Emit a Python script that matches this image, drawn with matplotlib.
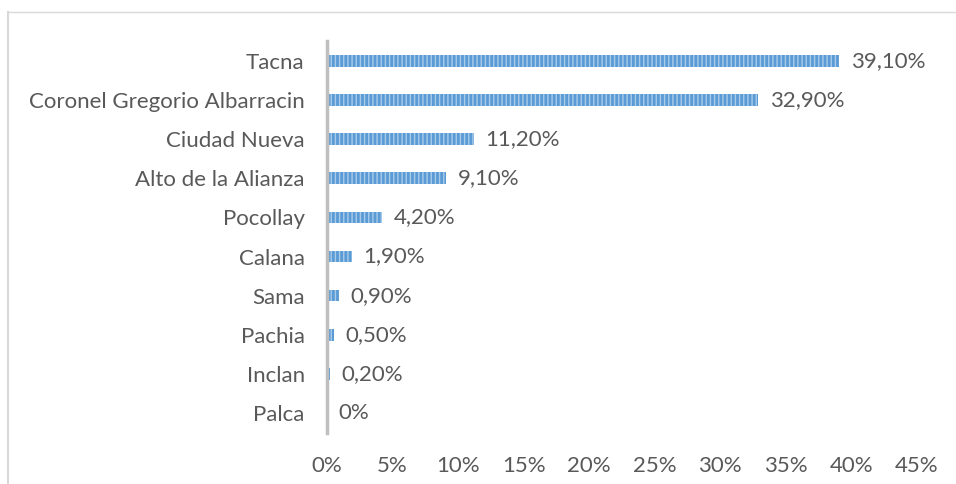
import matplotlib
matplotlib.use("Agg")
import matplotlib.pyplot as plt
from matplotlib.lines import Line2D

categories = ["Tacna", "Coronel Gregorio Albarracin", "Ciudad Nueva", "Alto de la Alianza",
              "Pocollay", "Calana", "Sama", "Pachia", "Inclan", "Palca"]
values = [39.1, 32.9, 11.2, 9.1, 4.2, 1.9, 0.9, 0.5, 0.2, 0.0]
labels = ["39,10%", "32,90%", "11,20%", "9,10%", "4,20%", "1,90%", "0,90%", "0,50%", "0,20%", "0%"]
xticks = [0, 5, 10, 15, 20, 25, 30, 35, 40, 45]

plt.rcParams['font.family'] = ['Lato', 'DejaVu Sans']
plt.rcParams['hatch.color'] = '#A9CBEA'
plt.rcParams['hatch.linewidth'] = 1.0

fig = plt.figure(figsize=(9.56, 4.84), dpi=100)
ax = fig.add_axes([0.342, 0.1064, 0.617, 0.808])

txt = '#595959'
fs = 16
y = list(range(len(categories)))
ax.barh(y, values, height=0.3, color='#5B9BD5', edgecolor='#A9CBEA', hatch='||||', linewidth=0)
for yi, v, lab in zip(y, values, labels):
    ax.text(v + 0.9, yi, lab, va='center', ha='left', fontsize=fs, color=txt)

ax.set_xlim(0, 45)
ax.set_ylim(len(categories) - 0.5, -0.5)
ax.set_yticks(y)
ax.set_yticklabels(categories, fontsize=fs, color=txt)
ax.set_xticks(xticks)
ax.set_xticklabels([f"{t}%" for t in xticks], fontsize=fs, color=txt)
ax.tick_params(axis='both', length=0)
ax.tick_params(axis='x', pad=17)
ax.tick_params(axis='y', pad=16)
for s in ['top', 'right', 'bottom']:
    ax.spines[s].set_visible(False)
ax.spines['left'].set_color('#BFBFBF')
ax.spines['left'].set_linewidth(2.5)

fig.add_artist(Line2D([8/956, 1.0], [1 - 12/484, 1 - 12/484], color='#D9D9D9', lw=1, transform=fig.transFigure))
fig.add_artist(Line2D([8/956, 8/956], [1 - 12/484, 0], color='#D9D9D9', lw=1.5, transform=fig.transFigure))

fig.savefig("out.png", dpi=100)
